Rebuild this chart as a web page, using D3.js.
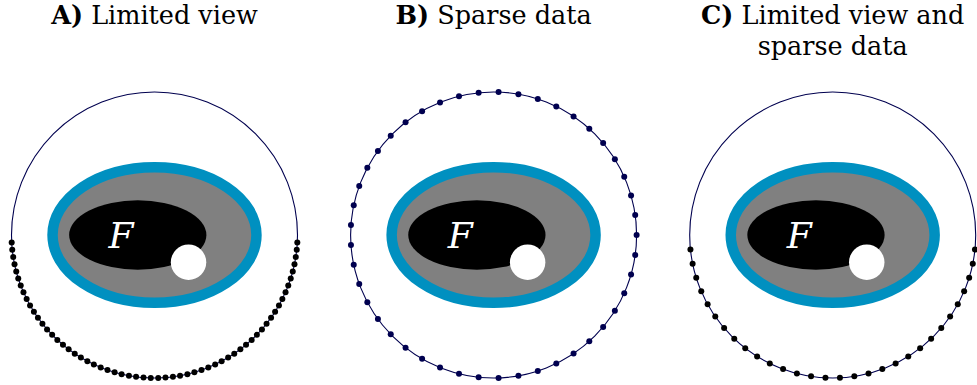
<!DOCTYPE html>
<html>
<head>
<meta charset="utf-8">
<script src="https://cdn.jsdelivr.net/npm/d3@7"></script>
<style>
  html, body { margin: 0; padding: 0; background: #fff; }
  svg { display: block; }
  text { font-family: "DejaVu Serif", serif; }
</style>
</head>
<body>
<svg id="chart" width="977" height="385"></svg>
<script>
// ---- data ----
const panels = ["A", "B", "C"];
const titleLabels = ["A)", "B)", "C)"];
const titleLines = [["Limited view"], ["Sparse data"], ["Limited view and", "sparse data"]];

// sensor angles (degrees, counter-clockwise from +x) on the unit detection circle
const sensorsA = [183.0,185.9,188.9,191.8,194.8,197.7,200.7,203.6,206.6,209.5,
  212.5,215.4,218.4,221.3,224.3,227.2,230.2,233.1,236.1,239.0,
  242.0,244.9,247.9,250.8,253.8,256.7,259.7,262.6,265.6,268.5,
  271.5,274.4,277.4,280.3,283.3,286.2,289.2,292.1,295.1,298.0,
  301.0,303.9,306.9,309.8,312.8,315.7,318.7,321.6,324.6,327.5,
  330.5,333.4,336.4,339.3,342.3,345.2,348.2,351.1,354.1,357.0];
const sensorsB = [0,8,16,24,32,40,48,56,64,72,80,88,96,104,112,120,128,136,144,152,
  160,168,176,184,192,200,208,216,224,232,240,248,256,264,272,280,288,296,304,312,
  320,328,336,344,352];
const sensorsC = [185.8,191.6,197.4,203.2,209.0,214.8,220.6,226.5,232.3,238.1,
  243.9,249.7,255.5,261.3,267.1,272.9,278.7,284.5,290.3,296.1,
  301.9,307.7,313.5,319.4,325.2,331.0,336.8,342.6,348.4,354.2];
const sensorSets = [sensorsA, sensorsB, sensorsC];

// phantom in unit-circle coordinates: [cx, cy, rx, ry]
const ringEllipse = [0, 0, 0.713, 0.474];
const innerEllipse = [-0.117, 0, 0.480, 0.243];
const whiteDisc = [0.238, -0.19, 0.124];
const labelF = [-0.234, -0.093];

// ---- layout ----
const R = 143, CY = 235;
const svg = d3.select("#chart");
const panelX = d3.scalePoint().domain(panels).range([154.5, 832.7]);
const NAVY = "#00004f";
const TS = 25.5;

panels.forEach((p, i) => {
  const cx = panelX(p);
  const x = d3.scaleLinear().domain([-1, 1]).range([cx - R, cx + R]);
  const y = d3.scaleLinear().domain([-1, 1]).range([CY + R, CY - R]);
  const k = x(1) - x(0);
  const g = svg.append("g");

  // phantom
  g.append("ellipse")
    .attr("cx", x(ringEllipse[0])).attr("cy", y(ringEllipse[1]))
    .attr("rx", ringEllipse[2] * k).attr("ry", ringEllipse[3] * k)
    .attr("fill", "#808080").attr("stroke", "#0090c0").attr("stroke-width", 10.5);
  g.append("ellipse")
    .attr("cx", x(innerEllipse[0])).attr("cy", y(innerEllipse[1]))
    .attr("rx", innerEllipse[2] * k).attr("ry", innerEllipse[3] * k)
    .attr("fill", "#000");
  g.append("circle")
    .attr("cx", x(whiteDisc[0])).attr("cy", y(whiteDisc[1]))
    .attr("r", whiteDisc[2] * k).attr("fill", "#fff");
  g.append("text")
    .attr("x", x(labelF[0])).attr("y", y(labelF[1]))
    .attr("text-anchor", "middle")
    .attr("font-style", "italic")
    .attr("font-size", 36).attr("fill", "#fff")
    .text("F");

  // detection circle
  g.append("circle")
    .attr("cx", x(0)).attr("cy", y(0)).attr("r", k)
    .attr("fill", "none").attr("stroke", NAVY).attr("stroke-width", 1.1);

  // sensors
  g.selectAll("circle.sensor").data(sensorSets[i]).join("circle")
    .attr("class", "sensor")
    .attr("cx", a => x(Math.cos(a * Math.PI / 180)))
    .attr("cy", a => y(Math.sin(a * Math.PI / 180)))
    .attr("r", 3)
    .attr("fill", p === "B" ? NAVY : "#000");

  // title (each line is its own text element, centred over the panel)
  titleLines[i].forEach((line, j) => {
    const t = svg.append("text")
      .attr("font-size", TS).attr("fill", "#000")
      .attr("y", 24 + j * 31);
    if (j === 0) {
      t.append("tspan").attr("font-weight", "bold").text(titleLabels[i]);
      t.append("tspan").text(" " + line);
    } else {
      t.text(line);
    }
    const w = t.node().getComputedTextLength();
    t.attr("x", Math.min(cx - w / 2, 975 - w));
  });
});
</script>
</body>
</html>
